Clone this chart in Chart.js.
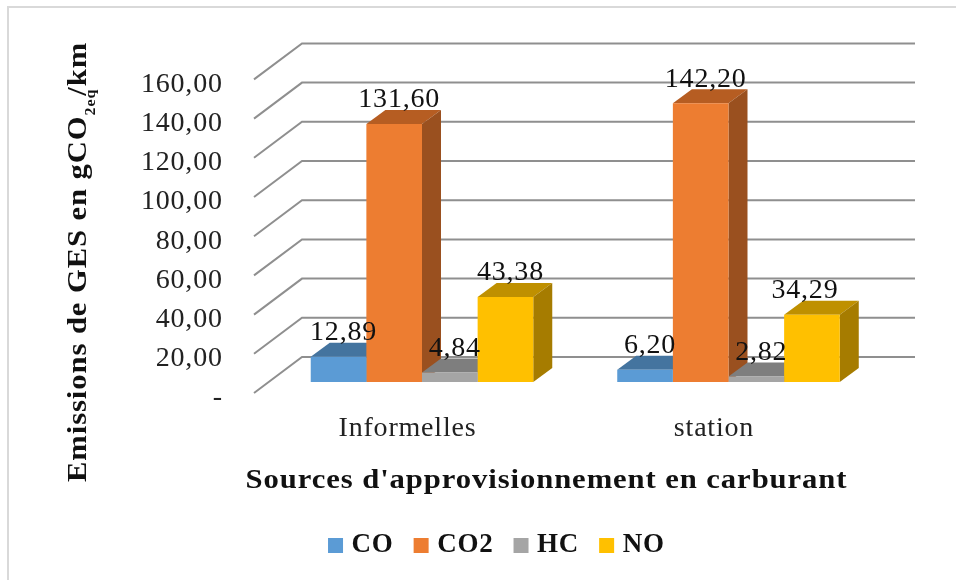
<!DOCTYPE html>
<html>
<head>
<meta charset="utf-8">
<style>
html,body{margin:0;padding:0;background:#fff}
#wrap{position:relative;width:956px;height:580px}
</style>
<script src="https://cdn.jsdelivr.net/npm/chart.js@4"></script>
</head>
<body>
<div id="wrap"><canvas id="c" width="956" height="580"></canvas></div>
<script>
// Chart values
const categories = ['Informelles', 'station'];
const seriesNames = ['CO', 'CO2', 'HC', 'NO'];
const coValues = [12.89, 6.20];
const co2Values = [131.60, 142.20];
const hcValues = [4.84, 2.82];
const noValues = [43.38, 34.29];
const yTickStep = 20;
const yMax = 160;

const faceColors = ['#5B9BD5', '#ED7D31', '#A5A5A5', '#FFC000'];
const topColors  = ['#44749F', '#B65D22', '#7E7E7E', '#BF9000'];
const sideColors = ['#3B6690', '#9A501F', '#6E6E6E', '#A67C00'];

const SERIF = '"Liberation Serif", serif';
const TRACK = '0.8px';

// Oblique projection of the floor and of the bars' own depth
const floorBack = {dx: 33.25, dy: -25};
const floorFront = {dx: -14.75, dy: 11};
const barDepth = {dx: 19, dy: -14};

const fmt = v => v.toFixed(2).replace('.', ',');

const perspective = {
  id: 'perspective',
  beforeLayout(chart) { chart.ctx.letterSpacing = TRACK; },
  beforeDraw(chart) {
    const {ctx, width, height} = chart;
    ctx.letterSpacing = TRACK;
    ctx.save();
    ctx.strokeStyle = '#D9D9D9';
    ctx.lineWidth = 2;
    ctx.beginPath();
    ctx.moveTo(8, height);
    ctx.lineTo(8, 7);
    ctx.lineTo(width, 7);
    ctx.stroke();
    ctx.restore();
  },
  // Wall and floor lines, one per y tick, then every top and side face;
  // the flat fronts are painted afterwards and cover whatever lies behind them
  beforeDatasetsDraw(chart) {
    const {ctx, chartArea, scales} = chart;
    ctx.save();
    ctx.strokeStyle = '#8F8F8F';
    ctx.lineWidth = 2;
    scales.y.ticks.forEach(t => {
      const y = scales.y.getPixelForValue(t.value);
      ctx.beginPath();
      ctx.moveTo(chartArea.left + floorFront.dx, y + floorFront.dy);
      ctx.lineTo(chartArea.left + floorBack.dx, y + floorBack.dy);
      ctx.lineTo(chartArea.right + floorBack.dx, y + floorBack.dy);
      ctx.stroke();
    });
    chart.data.datasets.forEach((ds, i) => {
      chart.getDatasetMeta(i).data.forEach(bar => {
        const p = bar.getProps(['x', 'y', 'base', 'width'], true);
        const l = p.x - p.width / 2, r = p.x + p.width / 2;
        ctx.fillStyle = topColors[i];
        ctx.beginPath();
        ctx.moveTo(l, p.y);
        ctx.lineTo(l + barDepth.dx, p.y + barDepth.dy);
        ctx.lineTo(r + barDepth.dx, p.y + barDepth.dy);
        ctx.lineTo(r, p.y);
        ctx.closePath();
        ctx.fill();
        ctx.fillStyle = sideColors[i];
        ctx.beginPath();
        ctx.moveTo(r, p.y);
        ctx.lineTo(r + barDepth.dx, p.y + barDepth.dy);
        ctx.lineTo(r + barDepth.dx, p.base + barDepth.dy);
        ctx.lineTo(r, p.base);
        ctx.closePath();
        ctx.fill();
      });
    });
    ctx.restore();
  },
  afterDatasetsDraw(chart) {
    const {ctx} = chart;
    ctx.save();
    // Value labels above each bar
    ctx.font = '28px ' + SERIF;
    ctx.fillStyle = '#111';
    ctx.textAlign = 'center';
    ctx.textBaseline = 'middle';
    chart.data.datasets.forEach((ds, i) => {
      chart.getDatasetMeta(i).data.forEach((bar, j) => {
        const shift = (i === 3 && j === 1) ? -7 : 5;
        ctx.fillText(fmt(ds.data[j]), bar.x + shift, bar.y - 24);
      });
    });
    // Horizontal axis title, widened to the face's broad proportions
    ctx.save();
    ctx.font = 'bold 27px ' + SERIF;
    ctx.translate(546.5, 481);
    ctx.scale(1.136, 1);
    ctx.fillText("Sources d'approvisionnement en carburant", 0, 0);
    ctx.restore();
    // Vertical axis title, with the subscript set smaller and below the baseline
    const parts = [
      ['Emissions de GES en gCO', 'bold 27px ' + SERIF, 0, 0],
      ['2eq', 'bold 14px ' + SERIF, 9, -6],
      ['/km', 'bold 27px ' + SERIF, 0, 0]
    ];
    ctx.translate(86, 482);
    ctx.rotate(-Math.PI / 2);
    ctx.scale(1.135, 1);
    ctx.textAlign = 'left';
    ctx.textBaseline = 'alphabetic';
    let x = 0;
    parts.forEach(([txt, font, drop, kern]) => {
      ctx.font = font;
      ctx.fillText(txt, x, drop);
      x += ctx.measureText(txt).width + kern;
    });
    ctx.restore();
  }
};

const seriesData = [coValues, co2Values, hcValues, noValues];

new Chart(document.getElementById('c'), {
  type: 'bar',
  data: {
    labels: categories,
    datasets: seriesNames.map((name, i) => ({
      label: name,
      data: seriesData[i],
      backgroundColor: faceColors[i],
      borderWidth: 0,
      categoryPercentage: 0.726,
      barPercentage: 1
    }))
  },
  plugins: [perspective],
  options: {
    responsive: false,
    animation: false,
    layout: {padding: {left: 116, right: 74.25, top: 68.4, bottom: 11}},
    scales: {
      x: {
        grid: {display: false, drawTicks: false},
        border: {display: false},
        afterFit(s) { s.height = 125; },
        ticks: {
          padding: 30,
          labelOffset: -14.5,
          maxRotation: 0,
          color: '#222',
          font: {family: SERIF, size: 28}
        }
      },
      y: {
        min: 0,
        max: yMax,
        grid: {display: false, drawTicks: false},
        border: {display: false},
        afterFit(s) { s.width = 152.75; },
        ticks: {
          stepSize: yTickStep,
          padding: 46,
          labelOffset: 16,
          color: '#222',
          font: {family: SERIF, size: 28},
          callback: v => v === 0 ? '-' : fmt(v)
        }
      }
    },
    plugins: {
      tooltip: {enabled: false},
      legend: {
        position: 'bottom',
        labels: {
          // A small box with a thick stroke keeps the swatch close to its text
          boxWidth: 5,
          boxHeight: 5,
          padding: 25,
          color: '#111',
          font: {family: SERIF, size: 27, weight: 'bold'},
          generateLabels: chart =>
            Chart.defaults.plugins.legend.labels.generateLabels(chart)
              .map(item => ({...item, lineWidth: 10, strokeStyle: item.fillStyle}))
        }
      }
    }
  }
});
</script>
</body>
</html>
